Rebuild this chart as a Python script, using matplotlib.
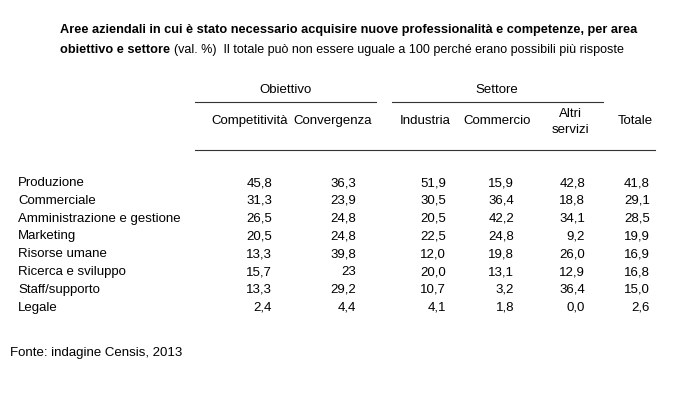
import matplotlib
matplotlib.use("Agg")
import matplotlib.pyplot as plt
from matplotlib.lines import Line2D

plt.rcParams['font.family'] = ['Liberation Sans', 'DejaVu Sans']

row_labels = ["Produzione", "Commerciale", "Amministrazione e gestione", "Marketing",
              "Risorse umane", "Ricerca e sviluppo", "Staff/supporto", "Legale"]
competitivita = ["45,8", "31,3", "26,5", "20,5", "13,3", "15,7", "13,3", "2,4"]
convergenza = ["36,3", "23,9", "24,8", "24,8", "39,8", "23", "29,2", "4,4"]
industria = ["51,9", "30,5", "20,5", "22,5", "12,0", "20,0", "10,7", "4,1"]
commercio = ["15,9", "36,4", "42,2", "24,8", "19,8", "13,1", "3,2", "1,8"]
altri_servizi = ["42,8", "18,8", "34,1", "9,2", "26,0", "12,9", "36,4", "0,0"]
totale = ["41,8", "29,1", "28,5", "19,9", "16,9", "16,8", "15,0", "2,6"]

W, H = 696, 415
fig = plt.figure(figsize=(W / 100, H / 100), dpi=100)
fig.patch.set_facecolor("white")

def px(x, y):
    return x / W, 1 - y / H

fs = 9.5

def txt(x, y, s, **kw):
    kw.setdefault("fontsize", fs)
    kw.setdefault("va", "center")
    return fig.text(*px(x, y), s, **kw)

def hline(x0, x1, y):
    a, b = px(x0, y)
    c, _ = px(x1, y)
    fig.add_artist(Line2D([a, c], [b, b], color="#333333", lw=0.8, transform=fig.transFigure))

# title
tfs = 9.2
txt(60, 30, "Aree aziendali in cui è stato necessario acquisire nuove professionalità e competenze, per area",
    fontweight="bold", fontsize=tfs)
t1 = txt(60, 50, "obiettivo e settore", fontweight="bold", fontsize=tfs)
fig.canvas.draw()
bb = t1.get_window_extent(renderer=fig.canvas.get_renderer())
txt(bb.x1 + 4, 50, "(val. %)  Il totale può non essere uguale a 100 perché erano possibili più risposte",
    fontsize=tfs - 0.2)

# group headers
txt(285, 90, "Obiettivo", ha="center")
txt(497, 90, "Settore", ha="center")
hline(195, 376, 102)
hline(392, 603, 102)

# column headers
col_centers = [250, 333, 425, 497, 570, 635]
col_heads = ["Competitività", "Convergenza", "Industria", "Commercio", "Altri\nservizi", "Totale"]
for cx, h in zip(col_centers, col_heads):
    txt(cx, 121 if "\n" not in h else 122, h, ha="center", linespacing=1.5)
hline(195, 655, 150)

# rows
col_right = [272, 356, 446, 514, 585, 650]
columns = [competitivita, convergenza, industria, commercio, altri_servizi, totale]
y0, dy = 183, 17.8
for i, lab in enumerate(row_labels):
    y = y0 + i * dy
    txt(18, y, lab)
    for xr, col in zip(col_right, columns):
        txt(xr, y, col[i], ha="right")

txt(10, 353, "Fonte: indagine Censis, 2013")

fig.savefig("out.png", dpi=100)
